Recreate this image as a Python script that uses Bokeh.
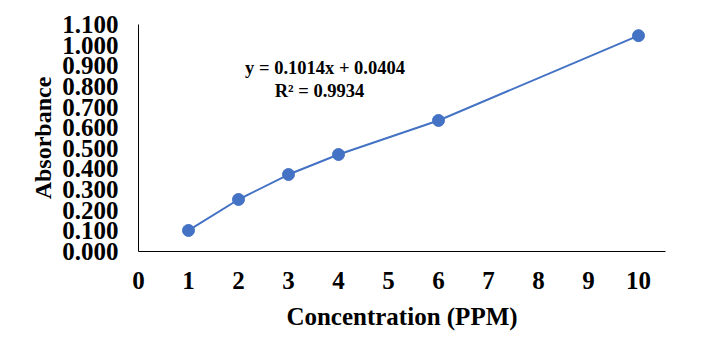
from bokeh.plotting import figure
from bokeh.models import Range1d, FixedTicker, PrintfTickFormatter, Label, ColumnDataSource
from bokeh.embed import file_html
from bokeh.resources import INLINE

concentration = [1, 2, 3, 4, 6, 10]
absorbance = [0.102, 0.252, 0.373, 0.470, 0.635, 1.046]
x_ticks = [0, 1, 2, 3, 4, 5, 6, 7, 8, 9, 10]
y_ticks = [0.0, 0.1, 0.2, 0.3, 0.4, 0.5, 0.6, 0.7, 0.8, 0.9, 1.0, 1.1]
equation = "y = 0.1014x + 0.0404"
r_squared = "R² = 0.9934"

FONT = "Liberation Serif"
BLUE = "#4472C4"

p = figure(width=709, height=355, output_backend="svg", toolbar_location=None,
           x_range=Range1d(0, 10.54), y_range=Range1d(0, 1.1),
           min_border_left=138, min_border_right=44, min_border_top=24, min_border_bottom=104)

src = ColumnDataSource(dict(x=concentration, y=absorbance))
p.line("x", "y", source=src, line_color=BLUE, line_width=2)
p.scatter("x", "y", source=src, size=12, fill_color=BLUE, line_color=BLUE)

p.xgrid.visible = False
p.ygrid.visible = False
p.outline_line_color = None
p.background_fill_color = "white"
p.border_fill_color = "white"

for ax in (p.xaxis[0], p.yaxis[0]):
    ax.major_tick_in = 0
    ax.major_tick_out = 0
    ax.minor_tick_in = 0
    ax.minor_tick_out = 0
    ax.axis_line_color = "black"
    ax.axis_line_width = 1
    ax.major_label_text_font = FONT
    ax.major_label_text_font_style = "bold"
    ax.major_label_text_font_size = "25px"
    ax.major_label_text_color = "black"
    ax.axis_label_text_font = FONT
    ax.axis_label_text_font_style = "bold"
    ax.axis_label_text_color = "black"

p.xaxis.axis_label_text_font_size = "25px"
p.yaxis.axis_label_text_font_size = "24px"
p.xaxis.ticker = FixedTicker(ticks=x_ticks)
p.yaxis.ticker = FixedTicker(ticks=y_ticks)
p.yaxis.formatter = PrintfTickFormatter(format="%.3f")
p.xaxis.axis_label = "Concentration (PPM)"
p.yaxis.axis_label = "Absorbance"
p.xaxis.major_label_standoff = 20
p.yaxis.major_label_standoff = 20
p.xaxis.axis_label_standoff = 11
p.yaxis.axis_label_standoff = 3

p.add_layout(Label(x=3.73, y=0.887, text=equation, text_font=FONT, text_font_style="bold",
                   text_font_size="18.5px", text_align="center", text_baseline="middle", text_color="black"))
p.add_layout(Label(x=3.62, y=0.780, text=r_squared, text_font=FONT, text_font_style="bold",
                   text_font_size="18.5px", text_align="center", text_baseline="middle", text_color="black"))

open("out.html", "w").write(file_html(p, INLINE))
